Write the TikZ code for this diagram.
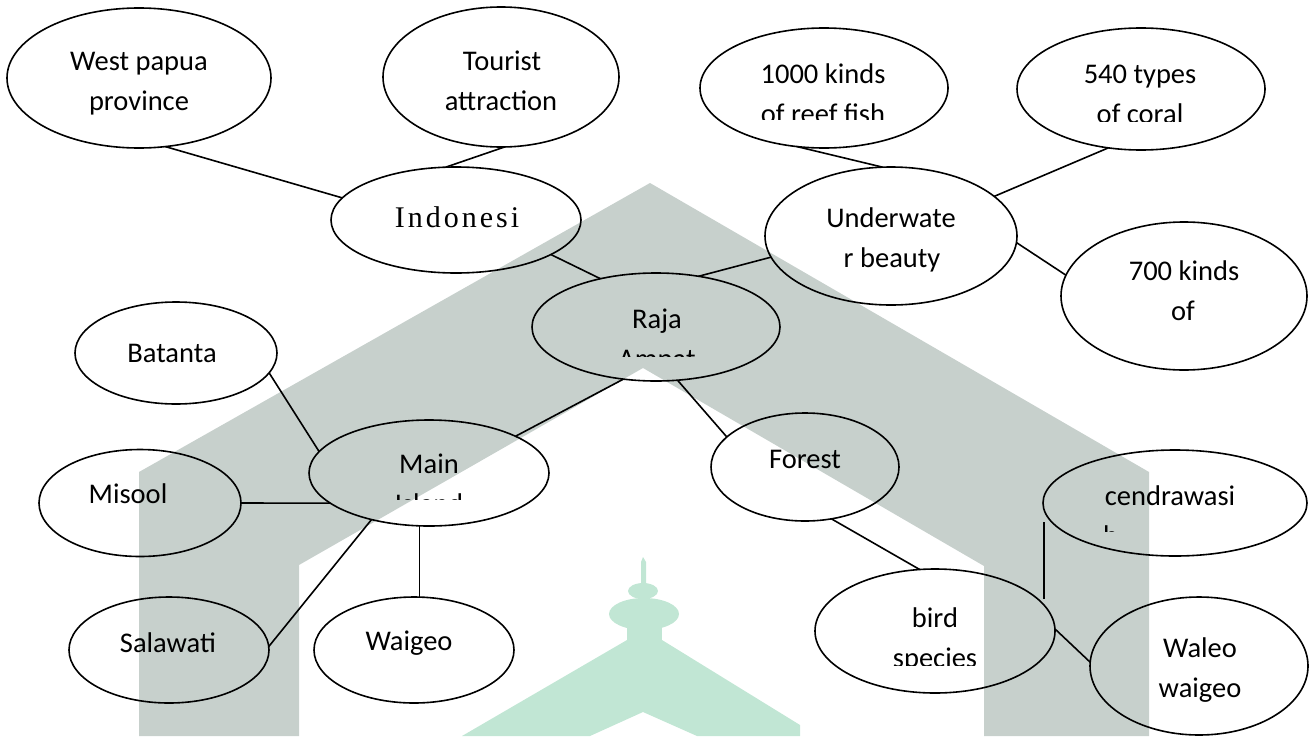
\documentclass[tikz,border=0pt]{standalone}
\usepackage{fontspec}
\setmainfont{Carlito}
\newfontfamily\minchofont{Liberation Serif}[LetterSpace=10]
\usetikzlibrary{shapes.geometric,calc}
\definecolor{wmgrey}{RGB}{199,208,204}
\definecolor{wmgreen}{RGB}{193,230,212}
\tikzset{
  bub/.style={ellipse, draw=black, line width=1.6pt, inner sep=0pt, outer sep=0pt},
  lbl/.style={font=\fontsize{28.5}{40}\selectfont, anchor=base, inner sep=0pt, outer sep=0pt, text=black},
  link/.style={line width=1.6pt, draw=black}
}
\begin{document}
\begin{tikzpicture}[x=1pt,y=-1pt]
\useasboundingbox (0,0) rectangle (1313,736);
% watermark
\fill[wmgrey] (139,736) -- (139,472) -- (650,183) -- (1149,472) -- (1149,736) -- (984,736) -- (984,566) -- (643,368) -- (299,565) -- (299,736) -- cycle;
\fill[wmgreen] (627,640) -- (662,640) -- (800,725) -- (800,736) -- (697,736) -- (643,712) -- (590,736) -- (462,736) -- cycle;
\fill[wmgreen] (627,626) rectangle (662,644);
\fill[wmgreen] (644,614) ellipse [x radius=35, y radius=16];
\fill[wmgreen] (643,591) ellipse [x radius=15, y radius=8];
\fill[wmgreen] (641,586) -- (641,562) -- (643,557) -- (646,562) -- (646,586) -- cycle;
% bubbles
\node[bub, minimum width=264pt, minimum height=140pt] (wp) at (139,78) {};
\node[bub, minimum width=236pt, minimum height=140pt] (ta) at (501,77) {};
\node[bub, minimum width=250pt, minimum height=106pt] (ind) at (456,220) {};
\node[bub, minimum width=248pt, minimum height=120pt] (reef) at (824,88) {};
\node[bub, minimum width=248pt, minimum height=122pt] (coral) at (1141,89) {};
\node[bub, minimum width=252pt, minimum height=138pt] (uw) at (891,236) {};
\node[bub, minimum width=246pt, minimum height=148pt] (sev) at (1184,296) {};
\node[bub, minimum width=248pt, minimum height=108pt] (raja) at (656,327) {};
\node[bub, minimum width=202pt, minimum height=102pt] (bat) at (176,353) {};
\node[bub, minimum width=240pt, minimum height=106pt] (main) at (429,473) {};
\node[bub, minimum width=188pt, minimum height=108pt] (forest) at (805,467) {};
\node[bub, minimum width=202pt, minimum height=107pt] (misool) at (140,503) {};
\node[bub, minimum width=264pt, minimum height=106pt] (cend) at (1175,503) {};
\node[bub, minimum width=200pt, minimum height=106pt] (sal) at (169,650) {};
\node[bub, minimum width=200pt, minimum height=106pt] (wai) at (414,650) {};
\node[bub, minimum width=240pt, minimum height=124pt] (bird) at (935,631) {};
\node[bub, minimum width=218pt, minimum height=138pt] (waleo) at (1199,666) {};
% texts
\node[lbl] (twp1) at (139,70) {West papua};
\node[lbl] (twp2) at (139,110) {province};
\node[lbl] (tta1) at (502,70) {Tourist};
\node[lbl] (tta2) at (501,110) {attraction};
\node[lbl, font=\minchofont\fontsize{30}{36}\selectfont] (tind) at (457,227) {Indonesi};
\node[lbl] (treef1) at (823,83) {1000 kinds};
\begin{scope}
\clip (700,90) rectangle (950,119);
\node[lbl] (treef2) at (823,123) {of reef fish};
\end{scope}
\node[lbl] (tcoral1) at (1140,83) {540 types};
\begin{scope}
\clip (1017,90) rectangle (1265,121);
\node[lbl] (tcoral2) at (1140,123) {of coral};
\end{scope}
\node[lbl] (tuw1) at (891,227) {Underwate};
\node[lbl] (tuw2) at (892,267) {r beauty};
\node[lbl] (tsev1) at (1184,280) {700 kinds};
\node[lbl] (tsev2) at (1183,320) {of};
\node[lbl] (traja1) at (657,328) {Raja};
\begin{scope}
\clip (540,335) rectangle (780,356);
\node[lbl] (traja2) at (657,368) {Ampat};
\end{scope}
\node[lbl] (tbat) at (172,362) {Batanta};
\node[lbl] (tmain1) at (429,473) {Main};
\begin{scope}
\clip (320,480) rectangle (540,499);
\node[lbl] (tmain2) at (429,513) {Island};
\end{scope}
\node[lbl] (tmisool) at (128,503) {Misool};
\node[lbl] (tsal) at (168,652) {Salawati};
\node[lbl] (twai) at (409,650) {Waigeo};
\node[lbl] (tforest) at (805,468) {Forest};
\node[lbl] (tcend1) at (1170,505) {cendrawasi};
\begin{scope}
\clip (1050,512) rectangle (1300,531);
\node[lbl, anchor=base west] (tcend2) at (1103,545) {h};
\end{scope}
\node[lbl] (tbird1) at (935,627) {bird};
\begin{scope}
\clip (820,640) rectangle (1050,665);
\node[lbl] (tbird2) at (935,667) {species};
\end{scope}
\node[lbl] (twaleo1) at (1200,657) {Waleo};
\node[lbl] (twaleo2) at (1200,697) {waigeo};
% connectors
\draw[link] (wp.-69) -- (ind.169);
\draw[link] (ta.-87) -- (ind.101);
\draw[link] (ind.-20) -- (raja.139);
\draw[link] (raja.50) -- (uw.-170);
\draw[link] (reef.-115) -- (uw.97);
\draw[link] (coral.-119) -- (uw.21);
\draw[link] (uw.-3) -- (sev.170);
\draw[link] (raja.-122) -- (main.23);
\draw[link] (raja.-68) -- (forest.159);
\draw[link] (bat.-12) -- (main.169);
\draw[link] (misool.0) -- (main.-163);
\draw[link] (sal.2) -- (main.-141);
\draw[link] (main.-100) -- (main.-100 |- wai.north);
\draw[link] (forest.-63) -- (bird.104);
\coordinate (cendtop) at ($(cend.west)+(1,19)$);
\draw[link] (cendtop) -- (cendtop |- bird.17);
\draw[link] (bird.1) -- (waleo.178);
\end{tikzpicture}
\end{document}
